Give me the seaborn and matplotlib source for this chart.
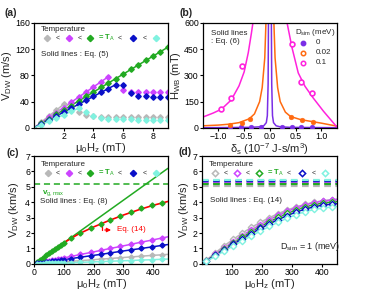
import numpy as np
import matplotlib
matplotlib.use("Agg")
import matplotlib.pyplot as plt
import seaborn as sns

# -----------------------
# Data
# -----------------------

colors = ["#b8b8b8", "#cc44ff", "#22aa22", "#0a10c8", "#80f2e0"]   # gray, violet, green, blue, cyan

# (a) V_DW (m/s) vs mu0 Hz (mT)
a_gray_x = [0.5, 1.0, 1.5, 2.0, 3.0, 3.5, 4.0, 4.5, 5.0, 5.5, 6.0, 6.5, 7.0, 7.5, 8.0, 8.5, 9.0]
a_gray_y = [9, 18, 27, 36, 24, 20, 18, 17, 17, 17, 17, 17, 17, 17, 17, 17, 17]
a_violet_x = [0.5, 1.0, 1.5, 2.0, 2.5, 3.0, 3.5, 4.0, 4.5, 5.0, 6.0, 6.5, 7.0, 7.5, 8.0, 8.5, 9.0]
a_violet_y = [8, 16, 23, 31, 39, 47, 55, 62, 70, 78, 57, 55, 55, 55, 55, 55, 55]
a_green_x = [0.5, 1.0, 1.5, 2.0, 2.5, 3.0, 3.5, 4.0, 4.5, 5.0, 5.5, 6.0, 6.5, 7.0, 7.5, 8.0, 8.5, 9.0]
a_green_y = [7, 14, 21, 27, 34, 41, 48, 55, 62, 68, 75, 82, 89, 96, 103, 110, 116, 123]
a_blue_x = [0.5, 1.0, 1.5, 2.0, 2.5, 3.0, 3.5, 4.0, 4.5, 5.0, 5.5, 6.0, 6.5, 7.0, 7.5, 8.0, 8.5, 9.0]
a_blue_y = [6, 12, 18, 24, 30, 36, 42, 48, 54, 60, 66, 65, 53, 49, 48, 47, 47, 47]
a_cyan_x = [0.5, 1.0, 1.5, 2.0, 2.5, 3.0, 3.5, 4.0, 4.5, 5.0, 5.5, 6.0, 6.5, 7.0, 7.5, 8.0, 8.5, 9.0]
a_cyan_y = [5, 10, 15, 20, 25, 30, 24, 18, 15, 14, 13, 13, 13, 12, 12, 12, 12, 12]
# Eq. (5) lines: end point of each linear regime
a_line_xend = [2.0, 5.0, 9.0, 5.5, 3.0]
a_line_yend = [36, 78, 123, 66, 30]

# (b) H_WB (mT) vs delta_s
b_labels = ["0", "0.02", "0.1"]
b_colors = ["#7a2ee6", "#ff6a10", "#ff22dd"]
b_pts_x = [
    [-0.77, -0.56, -0.37, -0.17, 0.24, 0.43, 0.60, 0.82],
    [-0.77, -0.55, -0.38, 0.40, 0.62, 0.84],
    [-0.94, -0.75, -0.55, 0.42, 0.60, 0.82],
]
b_pts_y = [
    [4, 4, 5, 6, 5, 4, 3, 3],
    [17, 30, 51, 61, 44, 34],
    [110, 173, 354, 478, 265, 202],
]
b_curve_x = [
    [-1.3, -0.8, -0.4, -0.2, -0.12, -0.07, -0.05, -0.035, -0.028, np.nan,
     0.028, 0.035, 0.05, 0.07, 0.12, 0.2, 0.4, 0.8, 1.3],
    [-1.3, -1.0, -0.8, -0.6, -0.4, -0.3, -0.2, -0.15, -0.1, -0.075, np.nan,
     0.075, 0.1, 0.15, 0.2, 0.3, 0.4, 0.6, 0.8, 1.0, 1.3],
    [-1.3, -1.1, -0.94, -0.75, -0.6, -0.5, -0.42, -0.36, -0.32, np.nan,
     0.32, 0.36, 0.43, 0.55, 0.68, 0.84, 1.04, 1.3],
]
b_curve_y = [
    [1, 2, 3, 6, 12, 30, 70, 250, 620, np.nan,
     620, 250, 70, 30, 12, 6, 3, 2, 1],
    [12, 16, 21, 30, 52, 80, 150, 230, 400, 620, np.nan,
     620, 400, 230, 150, 90, 65, 47, 37, 27, 10],
    [62, 85, 107, 160, 240, 320, 430, 540, 620, np.nan,
     620, 560, 457, 314, 238, 171, 95, 5],
]

# (c) V_DW (km/s) vs mu0 Hz (mT), Eq. (8) and Eq. (14)
c_x = [10, 20, 30, 40, 50, 60, 70, 80, 90, 100, 125, 155, 190, 225, 255, 290, 325, 360, 395, 430]
c_gray_y = [0.01, 0.03, 0.04, 0.05, 0.07, 0.08, 0.09, 0.11, 0.12, 0.13, 0.17, 0.21, 0.26, 0.31, 0.35, 0.40, 0.45, 0.50, 0.55, 0.59]
c_violet_y = [0.04, 0.08, 0.12, 0.16, 0.20, 0.24, 0.27, 0.31, 0.35, 0.39, 0.49, 0.61, 0.74, 0.88, 1.00, 1.13, 1.27, 1.41, 1.54, 1.68]
c_green_y = [0.14, 0.28, 0.41, 0.55, 0.69, 0.83, 0.96, 1.10, 1.24, 1.37, 1.68, 2.00, 2.33, 2.62, 2.85, 3.12, 3.38, 3.62, 3.80, 3.93]
c_blue_y = [0.03, 0.06, 0.08, 0.11, 0.14, 0.17, 0.19, 0.22, 0.25, 0.28, 0.35, 0.43, 0.53, 0.62, 0.71, 0.81, 0.91, 1.00, 1.10, 1.20]
c_cyan_y = [0.01, 0.01, 0.02, 0.03, 0.03, 0.04, 0.05, 0.05, 0.06, 0.07, 0.08, 0.10, 0.13, 0.15, 0.17, 0.20, 0.22, 0.25, 0.27, 0.30]
c_eq8_x = [0, 450]
c_eq8_y = [0, 6.2]
c_vgmax = 5.2
c_eq14_x = [0, 50, 100, 150, 200, 250, 300, 350, 400, 450]
c_eq14_y = [0, 0.69, 1.38, 1.95, 2.40, 2.80, 3.17, 3.50, 3.80, 4.05]

# (d) V_DW (km/s) vs mu0 Hz (mT), D_sim = 1 meV
d_x = [15, 45, 75, 105, 135, 165, 195, 225, 255, 285, 315, 345, 375, 405, 435]
d_gray_y = [0.25, 0.72, 1.18, 1.60, 2.00, 2.37, 2.70, 3.00, 3.27, 3.50, 3.70, 3.87, 4.00, 4.10, 4.17]
d_violet_y = [0.21, 0.63, 1.04, 1.45, 1.84, 2.20, 2.55, 2.87, 3.16, 3.42, 3.65, 3.84, 3.98, 4.08, 4.15]
d_green_y = [0.20, 0.59, 0.98, 1.36, 1.73, 2.08, 2.42, 2.73, 3.02, 3.28, 3.51, 3.70, 3.85, 3.95, 4.02]
d_blue_y = [0.18, 0.55, 0.92, 1.28, 1.63, 1.97, 2.30, 2.60, 2.88, 3.14, 3.37, 3.56, 3.71, 3.82, 3.88]
d_cyan_y = [0.16, 0.50, 0.84, 1.17, 1.50, 1.82, 2.13, 2.43, 2.71, 2.97, 3.20, 3.39, 3.53, 3.63, 3.70]
d_vmax = [5.05, 5.28, 5.20, 5.36, 5.46]   # dashed limits per temperature

# -----------------------
# Plotting
# -----------------------

sns.set_theme(style="ticks")
plt.rcParams["font.family"] = ["Liberation Sans", "DejaVu Sans"]
plt.rcParams["mathtext.fontset"] = "custom"
plt.rcParams["mathtext.rm"] = "Liberation Sans"
plt.rcParams["mathtext.it"] = "Liberation Sans"
plt.rcParams["axes.linewidth"] = 0.9
plt.rcParams["xtick.major.size"] = 2.2
plt.rcParams["ytick.major.size"] = 2.2
plt.rcParams["xtick.major.pad"] = 0.8
plt.rcParams["ytick.major.pad"] = 0.8

TXT = 5.8
LAB = 8

fig = plt.figure(figsize=(3.65, 2.9), dpi=100)
ax_a = fig.add_axes([0.093, 0.559, 0.367, 0.362])
ax_b = fig.add_axes([0.556, 0.559, 0.367, 0.362])
ax_c = fig.add_axes([0.094, 0.090, 0.366, 0.372])
ax_d = fig.add_axes([0.553, 0.090, 0.370, 0.372])

for ax in (ax_a, ax_b, ax_c, ax_d):
    ax.tick_params(labelsize=6.3, width=0.8, colors="black")
    for s in ax.spines.values():
        s.set_color("black")


def temp_row(ax, y, open_marker=False):
    ax.text(0.05, y + 0.085, "Temperature", transform=ax.transAxes, fontsize=TXT, va="center")
    xs = [0.10, 0.26, 0.42, 0.74, 0.91]
    for xx, col in zip(xs, colors):
        if open_marker:
            ax.plot(xx, y, "D", ms=3.2, mfc="white", mec=col, mew=1.1, transform=ax.transAxes)
        else:
            ax.plot(xx, y, "D", ms=3.2, color=col, transform=ax.transAxes)
    for xx in [0.175, 0.34, 0.64, 0.825]:
        ax.text(xx, y, "<", transform=ax.transAxes, fontsize=5, va="center", ha="center")
    ax.text(0.48, y, "= T$_A$", transform=ax.transAxes, fontsize=5.5, va="center",
            color=colors[2], fontweight="bold")


# (a)
a_x = [a_gray_x, a_violet_x, a_green_x, a_blue_x, a_cyan_x]
a_y = [a_gray_y, a_violet_y, a_green_y, a_blue_y, a_cyan_y]
for xs, ys, col, xe, ye in zip(a_x, a_y, colors, a_line_xend, a_line_yend):
    sns.lineplot(x=[0, xe], y=[0, ye], ax=ax_a, color=col, lw=1.1)
    ax_a.errorbar(xs, ys, xerr=0.13, yerr=3, fmt="D", ms=2.8, color=col, elinewidth=0.8, capsize=0)
ax_a.set_xlim(0, 9)
ax_a.set_ylim(0, 160)
ax_a.set_xticks([2, 4, 6, 8])
ax_a.set_yticks([0, 40, 80, 120, 160])
ax_a.set_xlabel(r"$\mu_0H_z$ (mT)", fontsize=LAB, labelpad=0)
ax_a.set_ylabel(r"V$_{DW}$ (m/s)", fontsize=LAB, labelpad=1)
temp_row(ax_a, 0.855)
ax_a.text(0.05, 0.70, "Solid lines : Eq. (5)", transform=ax_a.transAxes, fontsize=TXT, va="center")

# (b)
for i in range(3):
    sns.lineplot(x=b_curve_x[i], y=b_curve_y[i], ax=ax_b, color=b_colors[i], lw=1.1, sort=False)
    if i == 2:
        sns.scatterplot(x=b_pts_x[i], y=b_pts_y[i], ax=ax_b, marker="o", s=12,
                        facecolor="white", edgecolor=b_colors[i], linewidth=1.2, zorder=3)
    else:
        sns.scatterplot(x=b_pts_x[i], y=b_pts_y[i], ax=ax_b, marker="o", s=12,
                        color=b_colors[i], edgecolor=b_colors[i], zorder=3)
ax_b.set_xlim(-1.3, 1.3)
ax_b.set_ylim(0, 600)
ax_b.set_xticks([-1.0, -0.5, 0.0, 0.5, 1.0])
ax_b.set_yticks([0, 150, 300, 450, 600])
ax_b.set_xlabel(r"$\delta_s$ (10$^{-7}$ J-s/m$^3$)", fontsize=LAB, labelpad=0)
ax_b.set_ylabel(r"H$_{WB}$ (mT)", fontsize=LAB, labelpad=1)
ax_b.text(0.06, 0.93, "Solid lines\n: Eq. (6)", transform=ax_b.transAxes, fontsize=TXT,
          va="top", linespacing=1.1)
ax_b.text(0.69, 0.91, r"D$_{sim}$ (meV)", transform=ax_b.transAxes, fontsize=TXT, va="center")
for k in range(3):
    yy = 0.81 - 0.095 * k
    if k == 0:
        ax_b.plot(0.745, yy, "o", ms=3.2, color=b_colors[k], transform=ax_b.transAxes)
    else:
        ax_b.plot(0.745, yy, "o", ms=3.2, mfc="white", mec=b_colors[k], mew=1.1,
                  transform=ax_b.transAxes)
    ax_b.text(0.845, yy, b_labels[k], transform=ax_b.transAxes, fontsize=TXT, va="center")

# (c)
c_y = [c_gray_y, c_violet_y, c_green_y, c_blue_y, c_cyan_y]
for ys, col in zip(c_y, colors):
    if col != colors[2]:
        sns.lineplot(x=[0] + c_x + [450], y=[0] + ys + [ys[-1] * 450 / 430], ax=ax_c, color=col, lw=1.1)
sns.lineplot(x=c_eq8_x, y=c_eq8_y, ax=ax_c, color=colors[2], lw=1.1)
ax_c.axhline(c_vgmax, color=colors[2], lw=1.1, ls=(0, (4, 2.5)))
sns.lineplot(x=c_eq14_x, y=c_eq14_y, ax=ax_c, color="red", lw=1.2)
for ys, col in zip(c_y, colors):
    ax_c.errorbar(c_x, ys, xerr=4, yerr=0.08, fmt="D", ms=2.6, color=col, elinewidth=0.8, capsize=0)
ax_c.set_xlim(0, 450)
ax_c.set_ylim(0, 7)
ax_c.set_xticks([0, 100, 200, 300, 400])
ax_c.set_yticks(range(8))
ax_c.set_xlabel(r"$\mu_0H_z$ (mT)", fontsize=LAB, labelpad=0)
ax_c.set_ylabel(r"V$_{DW}$ (km/s)", fontsize=LAB, labelpad=3)
temp_row(ax_c, 0.84)
ax_c.text(0.055, 0.655, r"v$_{g,max}$", transform=ax_c.transAxes, fontsize=TXT, va="center",
          color=colors[2], fontweight="bold")
ax_c.text(0.04, 0.575, "Solid lines : Eq. (8)", transform=ax_c.transAxes, fontsize=TXT, va="center")
ax_c.annotate("", xy=(268, 2.2), xytext=(228, 2.2),
              arrowprops=dict(arrowstyle="-|>", color="red", lw=0.9, mutation_scale=6))
ax_c.plot([228, 228], [2.55, 2.2], color="red", lw=0.9)
ax_c.text(278, 2.2, "Eq. (14)", fontsize=TXT, color="red", va="center")

# (d)
d_y = [d_gray_y, d_violet_y, d_green_y, d_blue_y, d_cyan_y]
for ys, col, vm in zip(d_y, colors, d_vmax):
    ax_d.axhline(vm, color=col, lw=1.6, ls=(0, (3, 2)))
for ys, col in zip(d_y, colors):
    sns.lineplot(x=[0] + d_x + [450], y=[0] + ys + [ys[-1] + 0.03], ax=ax_d, color=col, lw=1.1)
    sns.scatterplot(x=d_x, y=ys, ax=ax_d, marker="D", s=10, facecolor="white",
                    edgecolor=col, linewidth=1.0, zorder=3)
ax_d.set_xlim(0, 450)
ax_d.set_ylim(0, 7)
ax_d.set_xticks([100, 200, 300, 400])
ax_d.set_yticks(range(8))
ax_d.set_xlabel(r"$\mu_0H_z$ (mT)", fontsize=LAB, labelpad=0)
ax_d.set_ylabel(r"V$_{DW}$ (km/s)", fontsize=LAB, labelpad=1)
temp_row(ax_d, 0.84, open_marker=True)
ax_d.text(0.06, 0.585, "Solid lines : Eq. (14)", transform=ax_d.transAxes, fontsize=TXT, va="center")
ax_d.text(0.58, 0.16, r"D$_{sim}$ = 1 (meV)", transform=ax_d.transAxes, fontsize=6.5, va="center")

for lab, x, y in [("(a)", 0.012, 0.955), ("(b)", 0.492, 0.955), ("(c)", 0.018, 0.474), ("(d)", 0.49, 0.476)]:
    fig.text(x, y, lab, fontsize=7.5, fontweight="bold", va="center")

fig.savefig("out.png", dpi=100)
